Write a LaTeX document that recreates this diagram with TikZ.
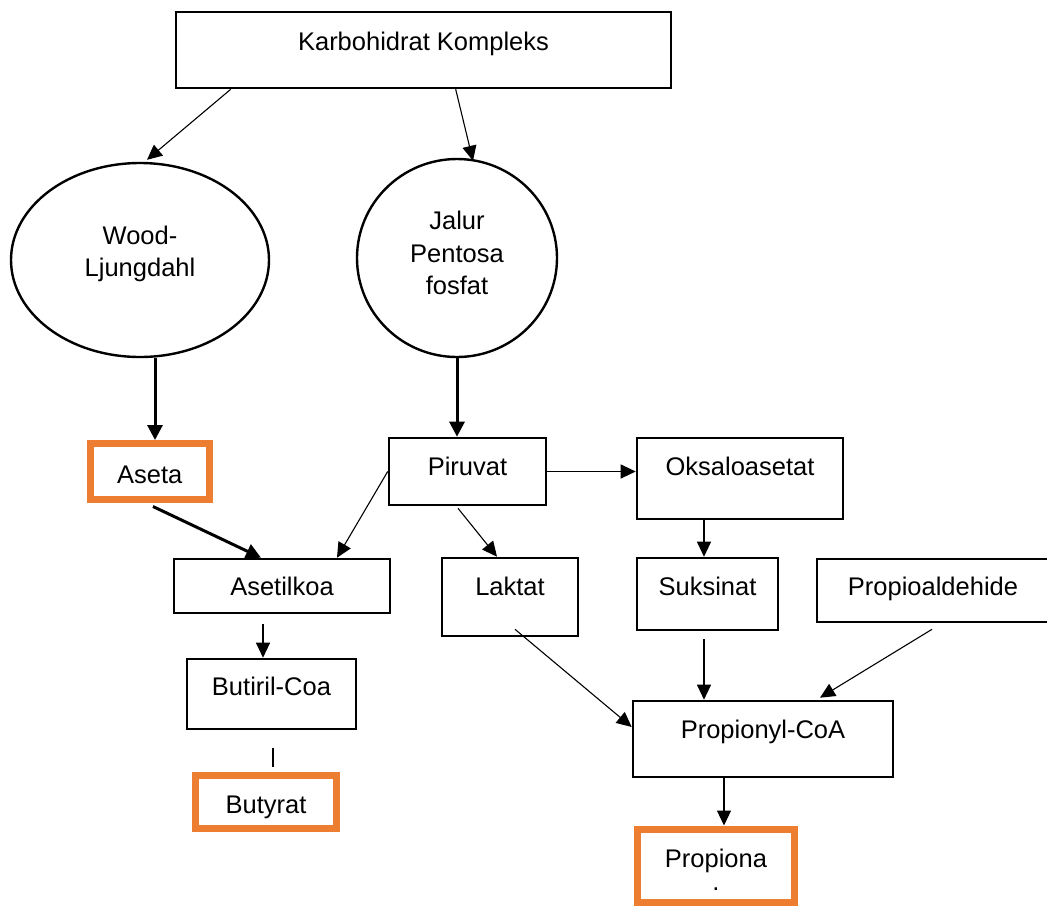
\documentclass[tikz,border=0pt]{standalone}
\usepackage{fontspec}
\setmainfont{Liberation Sans}
\usetikzlibrary{shapes.geometric,arrows.meta,calc}
\definecolor{orng}{HTML}{ED7D31}
\begin{document}
\begin{tikzpicture}[x=1pt,y=-1pt,
  font=\fontsize{25.5pt}{32.5pt}\selectfont,
  box/.style={draw=black,line width=2.6pt,inner sep=0pt,anchor=base,fill=white},
  obox/.style={draw=orng,line width=7pt,inner sep=0pt,anchor=base,fill=white},
  oval/.style={draw=black,ellipse,line width=2.4pt,inner sep=0pt,fill=white},
  arrthin/.style={line width=1.1pt,-{Triangle[length=15pt,width=14pt]}},
  arrthick/.style={line width=3pt,-{Triangle[length=15pt,width=15pt]}},
  plain/.style={line width=1.1pt}
]
\useasboundingbox (0,0) rectangle (1047,906);
% nodes
\node[box, minimum width=495pt, text height=38pt, text depth=38pt] (karb) at (423.5,50) {Karbohidrat Kompleks};
\node[oval, minimum width=258pt, minimum height=194pt] (wood) at (140,260)
  {\raisebox{0pt}[0pt][0pt]{\begin{tabular}{@{}c@{}}Wood-\\Ljungdahl\end{tabular}}};
\node[oval, minimum width=200pt, minimum height=198pt] (jalur) at (457,258)
  {\raisebox{-4pt}[0pt][0pt]{\begin{tabular}{@{}c@{}}Jalur\\Pentosa\\fosfat\end{tabular}}};
\node[obox, minimum width=118.5pt, text height=39.5pt, text depth=16.5pt] (aseta) at (149.75,483) {Aseta};
\node[box, minimum width=157pt, text height=37pt, text depth=30pt] (piruvat) at (467.5,475) {Piruvat};
\node[box, minimum width=206pt, text height=37pt, text depth=44pt] (oksal) at (740,475) {Oksaloasetat};
\node[box, minimum width=216pt, text height=36pt, text depth=18pt] (asetilkoa) at (282,595) {Asetilkoa};
\node[box, minimum width=136pt, text height=37pt, text depth=41pt] (laktat) at (510,595) {Laktat};
\node[box, minimum width=141pt, text height=37pt, text depth=35pt] (suksinat) at (707.5,595) {Suksinat};
\node[box, minimum width=232pt, text height=36pt, text depth=27pt] (propioald) at (933,595) {Propioaldehide};
\node[box, minimum width=169pt, text height=36pt, text depth=34pt] (butiril) at (271.5,695) {Butiril-Coa};
\node[obox, minimum width=140.5pt, text height=38pt, text depth=15.5pt] (butyrat) at (266,813) {Butyrat};
\node[box, minimum width=260pt, text height=37pt, text depth=39pt] (propionyl) at (763,738) {Propionyl-CoA};
\node[obox, minimum width=157pt, text height=38pt, text depth=35pt] (propiona) at (716,867)
  {\begin{tabular}[t]{@{}c@{}}Propiona\\[-9.5pt].\end{tabular}};
% connectors
\draw[arrthin] ($(karb.south west)+(56,0)$) -- ($(wood.north)+(7,-2)$);
\draw[arrthin] ($(karb.south west)+(281,0)$) -- ($(jalur.north)+(16,3)$);
\draw[arrthick] ($(wood.south)+(15,0)$) -- ($(aseta.north)+(5.25,0)$);
\draw[arrthick] (jalur.south) -- ($(piruvat.north)+(-10.5,0)$);
\draw[arrthick] ($(aseta.south)+(3.25,3.5)$) -- ($(asetilkoa.north)+(-21,0)$);
\draw[arrthin] (piruvat.west) -- ($(asetilkoa.north)+(55,0)$);
\draw[arrthin] ($(piruvat.south)+(-9.5,2)$) -- ($(laktat.north)+(-13,0)$);
\draw[arrthin] (piruvat.east) -- (piruvat.east -| oksal.west);
\draw[arrthin] ($(oksal.south)+(-36,0)$) -- ($(suksinat.north)+(-3.5,0)$);
\draw[arrthin] ($(asetilkoa.south)+(-19,10)$) -- ($(butiril.north)+(-8.5,0)$);
\draw[plain] ($(butiril.south)+(1.5,18)$) -- ($(butyrat.north)+(7,-5)$);
\draw[arrthin] ($(laktat.south)+(5,-8)$) -- ($(propionyl.west)+(0,-12)$);
\draw[arrthin] ($(suksinat.south)+(-3.5,8)$) -- ($(propionyl.north)+(-59,0)$);
\draw[arrthin] ($(propioald.south)+(-1,6)$) -- ($(propionyl.north)+(57,-2)$);
\draw[arrthin] ($(propionyl.south)+(-39,0)$) -- ($(propiona.north)+(8,0)$);
\end{tikzpicture}
\end{document}
